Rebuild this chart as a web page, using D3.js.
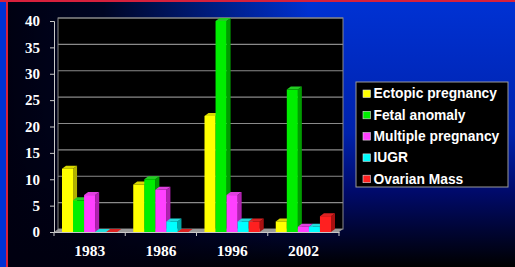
<!DOCTYPE html>
<html lang="en">
<head>
  <meta charset="UTF-8">
  <title>Indications</title>
  <script src="https://cdn.jsdelivr.net/npm/d3@7"></script>
</head>
<body style="margin:0; background:#000;">
<script>
  const years = ["1983", "1986", "1996", "2002"];
  const seriesNames = ["Ectopic pregnancy", "Fetal anomaly", "Multiple pregnancy", "IUGR", "Ovarian Mass"];
  const ectopic = [12, 9, 22, 2];
  const fetal = [6, 10, 40, 27];
  const multiple = [7, 8, 7, 1];
  const iugr = [0, 2, 2, 1];
  const ovarian = [0, 0, 2, 3];
  const yTicks = [0, 5, 10, 15, 20, 25, 30, 35, 40];

  const allSeries = [ectopic, fetal, multiple, iugr, ovarian];
  const colors = ["#ffff00", "#00ee00", "#ff40ff", "#00ffff", "#ff2020"];
  const sides = ["#b0b000", "#009c00", "#b020b0", "#00a8a8", "#a81010"];
  const tops = ["#d8d800", "#22cc22", "#e040e0", "#22dddd", "#dd2222"];

  const width = 515, height = 267;
  const dx = 4, dy = -3;

  const svg = d3.select("body").append("svg")
    .attr("width", width).attr("height", height)
    .style("display", "block");

  const defs = svg.append("defs");
  const vg = defs.append("linearGradient").attr("id", "vg")
    .attr("x1", 0).attr("y1", 0).attr("x2", 0).attr("y2", 1);
  vg.append("stop").attr("offset", "0%").attr("stop-color", "#0032d4");
  vg.append("stop").attr("offset", "50%").attr("stop-color", "#0022ac");
  vg.append("stop").attr("offset", "72%").attr("stop-color", "#000a6a");
  vg.append("stop").attr("offset", "100%").attr("stop-color", "#000000");
  const hg = defs.append("linearGradient").attr("id", "hg")
    .attr("x1", 0).attr("y1", 0).attr("x2", 1).attr("y2", 0);
  hg.append("stop").attr("offset", "0%").attr("stop-color", "#000010").attr("stop-opacity", 1);
  hg.append("stop").attr("offset", "20%").attr("stop-color", "#000010").attr("stop-opacity", 0.9);
  hg.append("stop").attr("offset", "60%").attr("stop-color", "#000010").attr("stop-opacity", 0);

  svg.append("rect").attr("width", width).attr("height", height).attr("fill", "url(#vg)");
  svg.append("rect").attr("width", width).attr("height", height).attr("fill", "url(#hg)");
  svg.append("rect").attr("x", 0).attr("y", 0).attr("width", 6).attr("height", height).attr("fill", "#0032d4");
  svg.append("rect").attr("x", 6).attr("y", 0).attr("width", 2).attr("height", height).attr("fill", "#d8203c");
  svg.append("rect").attr("x", 0).attr("y", 0).attr("width", width).attr("height", 2).attr("fill", "#d8203c");

  const x0 = d3.scaleBand().domain(years).range([54, 339]);
  const x1 = d3.scaleBand().domain(d3.range(seriesNames.length)).range([8, x0.bandwidth() - 8]);
  const y = d3.scaleLinear().domain([0, 40]).range([232, 21]);

  // back wall
  svg.append("rect")
    .attr("x", 54 + dx).attr("y", y(40) + dy)
    .attr("width", 339 - 54).attr("height", y(0) - y(40))
    .attr("fill", "#000").attr("stroke", "#8a8a8a").attr("stroke-width", 1);
  svg.append("g").selectAll("line").data(yTicks.slice(1)).join("line")
    .attr("x1", 54 + dx).attr("x2", 339 + dx)
    .attr("y1", d => y(d) + dy).attr("y2", d => y(d) + dy)
    .attr("stroke", "#8a8a8a").attr("stroke-width", 1.2);
  // floor
  svg.append("polygon")
    .attr("points", [[54, y(0)], [54 + dx, y(0) + dy], [339 + dx, y(0) + dy], [339, y(0)]].join(" "))
    .attr("fill", "#9a9a9a");

  // bars
  const groups = svg.append("g").selectAll("g").data(years).join("g")
    .attr("transform", d => `translate(${x0(d)},0)`);
  groups.each(function (yr, yi) {
    const g = d3.select(this);
    allSeries.forEach((vals, si) => {
      const v = vals[yi];
      const bx = x1(si), w = x1.bandwidth();
      const yt = y(v), yb = y(0);
      g.append("polygon")
        .attr("points", [[bx + w, yt], [bx + w + dx, yt + dy], [bx + w + dx, yb + dy], [bx + w, yb]].join(" "))
        .attr("fill", sides[si]);
      g.append("polygon")
        .attr("points", [[bx, yt], [bx + dx, yt + dy], [bx + w + dx, yt + dy], [bx + w, yt]].join(" "))
        .attr("fill", tops[si]);
      if (v > 0) {
        g.append("rect")
          .attr("x", bx).attr("y", yt).attr("width", w).attr("height", yb - yt)
          .attr("fill", colors[si]);
      }
    });
  });

  // y axis
  const yAxis = svg.append("g").attr("transform", "translate(54,0)")
    .call(d3.axisLeft(y).tickValues(yTicks).tickSize(4).tickPadding(10));
  yAxis.select(".domain").attr("stroke", "#c8c8c8");
  yAxis.selectAll(".tick line").attr("stroke", "#c8c8c8");
  yAxis.selectAll("text").attr("fill", "#fff")
    .style("font-family", "'Liberation Serif', 'Times New Roman', serif")
    .style("font-weight", "bold").style("font-size", "15px");

  // x axis
  const xAxis = svg.append("g").attr("transform", `translate(0,${y(0)})`)
    .call(d3.axisBottom(x0).tickSize(0).tickPadding(13));
  xAxis.select(".domain").attr("stroke", "#c8c8c8");
  xAxis.selectAll("text").attr("fill", "#fff")
    .style("font-family", "'Liberation Serif', 'Times New Roman', serif")
    .style("font-weight", "bold").style("font-size", "15.5px");
  svg.append("g").selectAll("line").data(d3.range(years.length + 1)).join("line")
    .attr("x1", i => 54 + i * x0.bandwidth()).attr("x2", i => 54 + i * x0.bandwidth())
    .attr("y1", y(0)).attr("y2", y(0) + 4)
    .attr("stroke", "#c8c8c8");

  // legend
  const legend = svg.append("g").attr("transform", "translate(356,82)");
  legend.append("rect").attr("width", 152).attr("height", 105)
    .attr("fill", "#000").attr("stroke", "#999").attr("stroke-width", 1);
  const items = legend.selectAll("g").data(seriesNames).join("g")
    .attr("transform", (d, i) => `translate(0,${11.5 + i * 21.3})`);
  items.append("rect").attr("x", 7).attr("y", -3.5).attr("width", 7.5).attr("height", 7.5)
    .attr("fill", (d, i) => colors[i]).attr("stroke", "#ddd").attr("stroke-width", 0.6);
  items.append("text").attr("x", 17.5).attr("y", 0).attr("dy", "0.36em")
    .attr("fill", "#fff")
    .style("font-family", "'Liberation Sans', Arial, sans-serif")
    .style("font-weight", "bold").style("font-size", "13.8px")
    .text(d => d);
</script>
</body>
</html>
